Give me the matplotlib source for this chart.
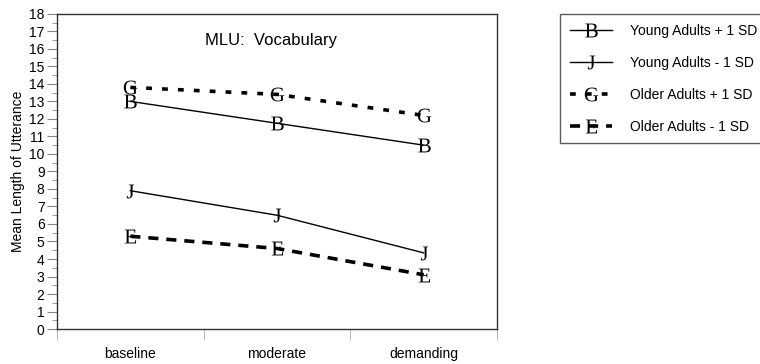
import matplotlib.pyplot as plt
from matplotlib.ticker import MultipleLocator, FixedLocator

plt.rcParams['font.family'] = ['Liberation Sans', 'DejaVu Sans']
plt.rcParams['mathtext.fontset'] = 'custom'
plt.rcParams['mathtext.rm'] = 'Liberation Serif'

conditions = ["baseline", "moderate", "demanding"]
young_plus = [13.0, 11.75, 10.5]
young_minus = [7.9, 6.5, 4.35]
older_plus = [13.8, 13.4, 12.2]
older_minus = [5.3, 4.6, 3.1]

series = [
    ("Young Adults + 1 SD", young_plus, "B", 1.0, "-"),
    ("Young Adults - 1 SD", young_minus, "J", 1.0, "-"),
    ("Older Adults + 1 SD", older_plus, "G", 2.6, (0, (1.6, 2.8))),
    ("Older Adults - 1 SD", older_minus, "E", 2.6, (0, (2.8, 2.2))),
]

fig = plt.figure(figsize=(7.6, 3.64), dpi=100)
ax = fig.add_axes([0.075, 0.096, 0.579, 0.866])

x = [i + 0.5 for i in range(len(conditions))]
handles = []
for label, vals, letter, lw, ls in series:
    line, = ax.plot(x, vals, color="black", lw=lw, linestyle=ls,
                    marker=r"$\mathrm{%s}$" % letter, markersize=10,
                    markeredgewidth=0, label=label)
    handles.append(line)

ax.set_xlim(0, 3)
ax.set_ylim(0, 18)
ax.yaxis.set_major_locator(MultipleLocator(1))
ax.yaxis.set_minor_locator(MultipleLocator(0.5))
ax.xaxis.set_major_locator(FixedLocator(x))
ax.xaxis.set_minor_locator(FixedLocator([0, 1, 2, 3]))
ax.set_xticklabels(conditions)
ax.tick_params(axis="y", which="major", length=7, color="#888888", labelsize=10, pad=2)
ax.tick_params(axis="y", which="minor", length=3.5, color="#888888")
ax.tick_params(axis="x", which="major", length=0, labelsize=10, pad=13)
ax.tick_params(axis="x", which="minor", length=8, color="#aaaaaa")
for s in ax.spines.values():
    s.set_color("#333333")
    s.set_linewidth(1.0)

ax.set_ylabel("Mean Length of Utterance", fontsize=10, labelpad=3)
ax.text(1.46, 16.5, "MLU:  Vocabulary", fontsize=12, ha="center", va="center")

leg = fig.legend(handles=handles, loc="upper left",
                 bbox_to_anchor=(0.737, 0.962), fontsize=10,
                 frameon=True, fancybox=False, handlelength=3.0,
                 labelspacing=1.3, borderpad=0.7, handletextpad=1.3,
                 borderaxespad=0)
leg.get_frame().set_edgecolor("#333333")
leg.get_frame().set_linewidth(1.0)

fig.savefig("out.png", dpi=100)
